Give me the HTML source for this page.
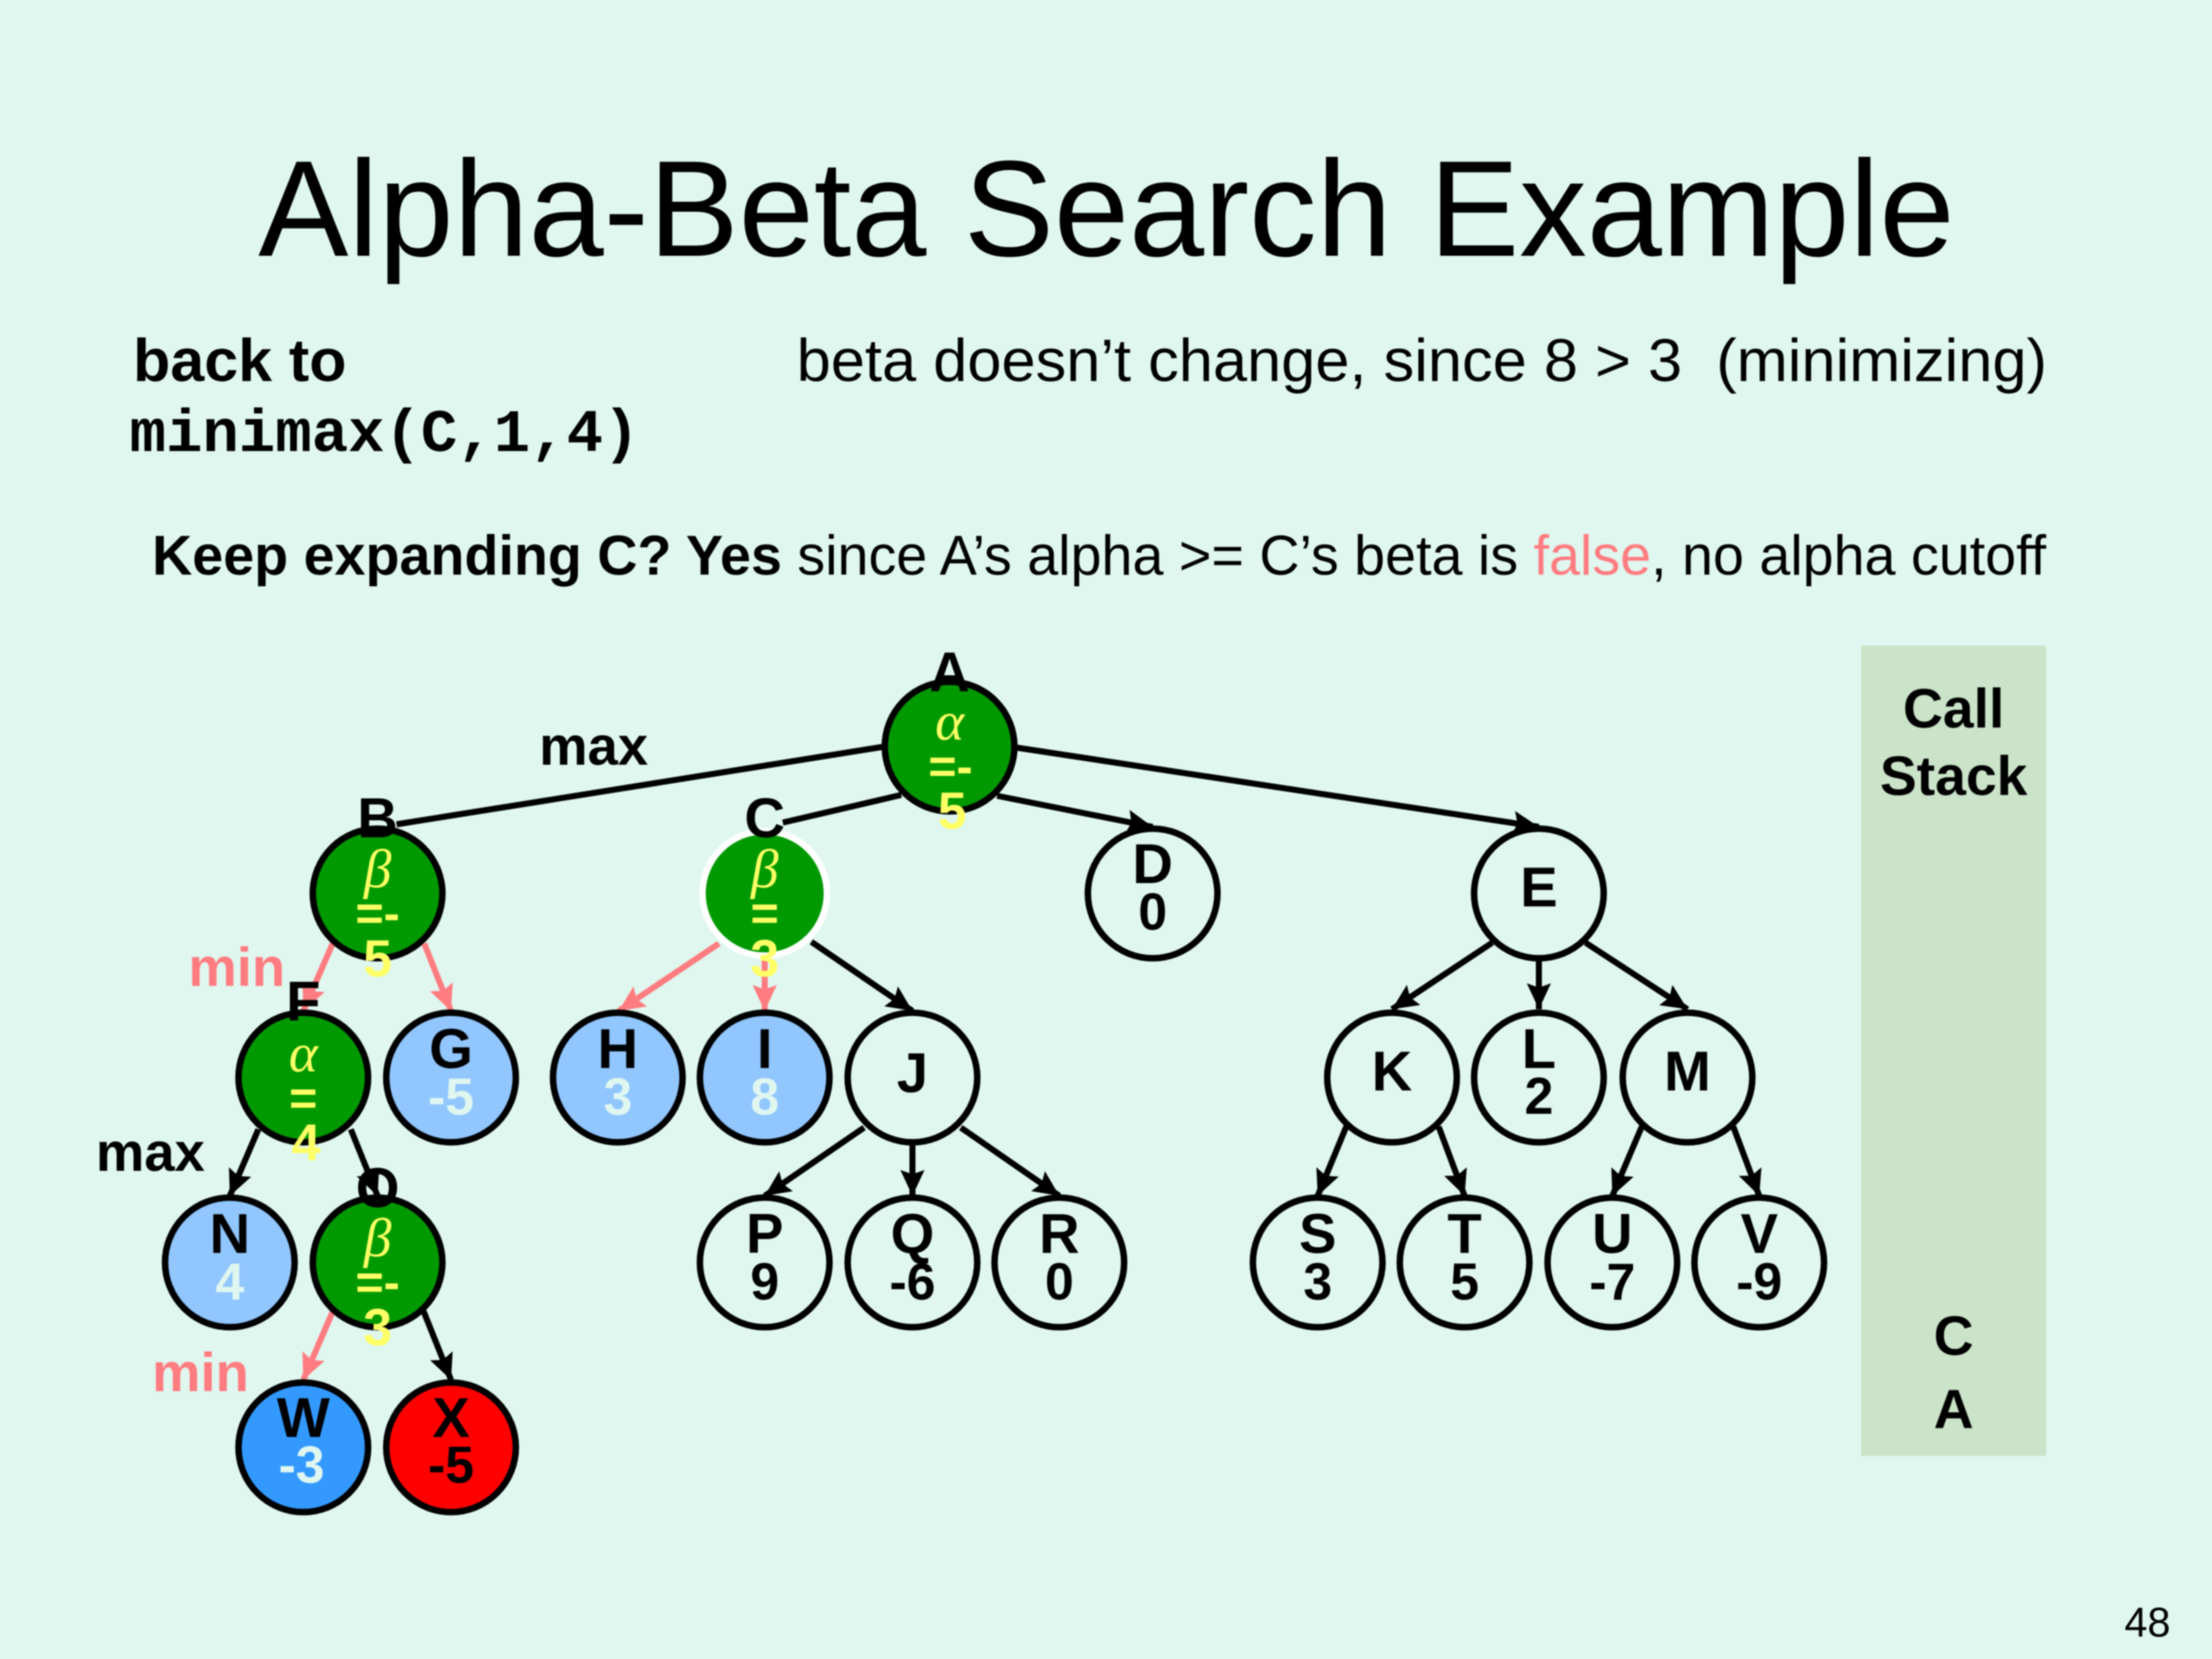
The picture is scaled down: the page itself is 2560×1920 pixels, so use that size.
<!DOCTYPE html>
<html>
<head>
<meta charset="utf-8">
<style>
html,body{margin:0;padding:0;background:#e0f7f0;}
svg{display:block;filter:blur(0.8px);}
text{font-family:"Liberation Sans",sans-serif;white-space:pre;}
.n{font-weight:bold;font-size:65px;text-anchor:middle;fill:#000;}
.v{font-weight:bold;font-size:60px;text-anchor:middle;fill:#000;}
.w{font-weight:bold;font-size:60px;text-anchor:middle;fill:#e0f7f0;}
.y{font-weight:bold;font-size:60px;text-anchor:middle;fill:#ffff66;}
.e{font-weight:bold;font-size:56px;text-anchor:middle;fill:#ffff66;}
.g{font-family:"Liberation Serif",serif;font-style:italic;font-size:64px;text-anchor:middle;fill:#ffff66;}
.k line{stroke:#000;stroke-width:7;marker-end:url(#ak);}
.k line.nm{marker-end:none;}
.p line{stroke:#ff7c80;stroke-width:7;marker-end:url(#ap);}
circle{stroke:#000;stroke-width:7.5;fill:#e0f7f0;}
.gr{fill:#009900;}
.lb{fill:#91c6ff;}
</style>
</head>
<body>
<svg xmlns="http://www.w3.org/2000/svg" width="2560" height="1920" viewBox="0 0 2560 1920">
<defs>
<marker id="ak" markerUnits="userSpaceOnUse" markerWidth="30" markerHeight="28" refX="30" refY="14" orient="auto"><path d="M0,0L30,14L0,28L5,14Z" fill="#000"/></marker>
<marker id="ap" markerUnits="userSpaceOnUse" markerWidth="30" markerHeight="28" refX="30" refY="14" orient="auto"><path d="M0,0L30,14L0,28L5,14Z" fill="#ff7c80"/></marker>
</defs>
<rect width="2560" height="1920" fill="#e0f7f0"/>
<text x="299" y="296" font-size="158" textLength="1963" lengthAdjust="spacingAndGlyphs">Alpha-Beta Search Example</text>
<text x="154" y="441" font-size="70" font-weight="bold" textLength="247" lengthAdjust="spacingAndGlyphs">back to</text>
<text x="922" y="441" font-size="70" textLength="1447" lengthAdjust="spacingAndGlyphs">beta doesn’t change, since 8 &gt; 3  (minimizing)</text>
<text x="150" y="522" font-size="70" font-weight="bold" style="font-family:'Liberation Mono',monospace" textLength="590" lengthAdjust="spacingAndGlyphs">minimax(C,1,4)</text>
<text x="176" y="665" font-size="65" textLength="2192" lengthAdjust="spacingAndGlyphs"><tspan font-weight="bold">Keep expanding C? Yes</tspan> since A’s alpha &gt;= C’s beta is <tspan fill="#ff7c80">false</tspan>, no alpha cutoff</text>

<rect x="2154" y="747" width="214" height="938" fill="#cbe4c9"/>
<g font-size="64" font-weight="bold" text-anchor="middle">
<text x="2261" y="842">Call</text>
<text x="2261" y="920">Stack</text>
<text x="2261" y="1568">C</text>
<text x="2261" y="1653">A</text>
</g>
<text x="2512" y="1894" font-size="48" text-anchor="end">48</text>

<g class="k">
<line class="nm" x1="1024" y1="864" x2="459" y2="954"/>
<line class="nm" x1="1043" y1="920" x2="906" y2="952"/>
<line x1="1154" y1="921" x2="1334" y2="957"/>
<line x1="1175" y1="865" x2="1781" y2="957"/>
<line x1="939" y1="1090" x2="1056" y2="1170"/>
<line x1="299" y1="1307" x2="266" y2="1384"/>
<line x1="406" y1="1307" x2="437" y2="1384"/>
<line x1="490" y1="1517" x2="522" y2="1597"/>
<line x1="1000" y1="1305" x2="885" y2="1384"/>
<line x1="1056" y1="1323" x2="1056" y2="1384"/>
<line x1="1112" y1="1305" x2="1226" y2="1384"/>
<line x1="1727" y1="1091" x2="1611" y2="1168"/>
<line x1="1781" y1="1109" x2="1781" y2="1168"/>
<line x1="1835" y1="1091" x2="1953" y2="1168"/>
<line x1="1558" y1="1304" x2="1525" y2="1384"/>
<line x1="1665" y1="1304" x2="1695" y2="1384"/>
<line x1="1900" y1="1304" x2="1866" y2="1384"/>
<line x1="2006" y1="1304" x2="2036" y2="1384"/>
</g>
<g class="p">
<line x1="385" y1="1092" x2="351" y2="1170"/>
<line x1="491" y1="1092" x2="522" y2="1170"/>
<line x1="832" y1="1092" x2="716" y2="1170"/>
<line x1="885" y1="1110" x2="885" y2="1170"/>
<line x1="385" y1="1518" x2="351" y2="1597"/>
</g>

<g font-size="63" font-weight="bold">
<text x="624" y="885">max</text>
<text x="111" y="1355">max</text>
<text x="218" y="1141" fill="#ff7c80">min</text>
<text x="176" y="1610" fill="#ff7c80">min</text>
</g>

<!-- green nodes -->
<circle class="gr" cx="1099" cy="864" r="75"/>
<text class="n" x="1099" y="800">A</text>
<text class="g" x="1099" y="856">α</text>
<text class="e" x="1100" y="906">=-</text>
<text class="y" x="1102" y="959">5</text>

<circle class="gr" cx="437" cy="1034" r="75"/>
<text class="n" x="437" y="969">B</text>
<text class="g" x="437" y="1027">β</text>
<text class="e" x="437" y="1076">=-</text>
<text class="y" x="437" y="1130">5</text>

<circle class="gr" cx="885" cy="1034" r="72" style="stroke:#fff"/>
<text class="n" x="885" y="969">C</text>
<text class="g" x="885" y="1027">β</text>
<text class="e" x="885" y="1076">=</text>
<text class="y" x="885" y="1130">3</text>

<circle class="gr" cx="351" cy="1247" r="75"/>
<text class="n" x="351" y="1181">F</text>
<text class="g" x="351" y="1240">α</text>
<text class="e" x="351" y="1290">=</text>
<text class="y" x="354" y="1343">4</text>

<circle class="gr" cx="437" cy="1461" r="75"/>
<text class="n" x="437" y="1397">O</text>
<text class="g" x="437" y="1454">β</text>
<text class="e" x="437" y="1503">=-</text>
<text class="y" x="437" y="1557">3</text>

<!-- leaf blue -->
<circle class="lb" cx="522" cy="1247" r="75"/><text class="n" x="522" y="1236">G</text><text class="w" x="522" y="1290">-5</text>
<circle class="lb" cx="715" cy="1247" r="75"/><text class="n" x="715" y="1236">H</text><text class="w" x="715" y="1290">3</text>
<circle class="lb" cx="885" cy="1247" r="75"/><text class="n" x="885" y="1236">I</text><text class="w" x="885" y="1290">8</text>
<circle class="lb" cx="266" cy="1461" r="75"/><text class="n" x="266" y="1450">N</text><text class="w" x="266" y="1504">4</text>
<circle cx="351" cy="1675" r="75" style="fill:#3399ff"/><text class="n" x="351" y="1663">W</text><text class="w" x="349" y="1716">-3</text>
<circle cx="522" cy="1675" r="75" style="fill:#ff0000"/><text class="n" x="522" y="1663">X</text><text class="v" x="522" y="1716">-5</text>

<!-- white nodes -->
<circle cx="1334" cy="1034" r="75"/><text class="n" x="1334" y="1022">D</text><text class="v" x="1334" y="1076">0</text>
<circle cx="1781" cy="1034" r="75"/><text class="n" x="1781" y="1049">E</text>
<circle cx="1056" cy="1247" r="75"/><text class="n" x="1056" y="1264">J</text>
<circle cx="1611" cy="1247" r="75"/><text class="n" x="1611" y="1262">K</text>
<circle cx="1781" cy="1247" r="75"/><text class="n" x="1781" y="1236">L</text><text class="v" x="1781" y="1289">2</text>
<circle cx="1953" cy="1247" r="75"/><text class="n" x="1953" y="1262">M</text>
<circle cx="885" cy="1461" r="75"/><text class="n" x="885" y="1450">P</text><text class="v" x="885" y="1504">9</text>
<circle cx="1056" cy="1461" r="75"/><text class="n" x="1056" y="1450">Q</text><text class="v" x="1056" y="1504">-6</text>
<circle cx="1226" cy="1461" r="75"/><text class="n" x="1226" y="1450">R</text><text class="v" x="1226" y="1504">0</text>
<circle cx="1525" cy="1461" r="75"/><text class="n" x="1525" y="1450">S</text><text class="v" x="1525" y="1504">3</text>
<circle cx="1695" cy="1461" r="75"/><text class="n" x="1695" y="1450">T</text><text class="v" x="1695" y="1504">5</text>
<circle cx="1866" cy="1461" r="75"/><text class="n" x="1866" y="1450">U</text><text class="v" x="1866" y="1504">-7</text>
<circle cx="2036" cy="1461" r="75"/><text class="n" x="2036" y="1450">V</text><text class="v" x="2036" y="1504">-9</text>
</svg>
</body>
</html>
